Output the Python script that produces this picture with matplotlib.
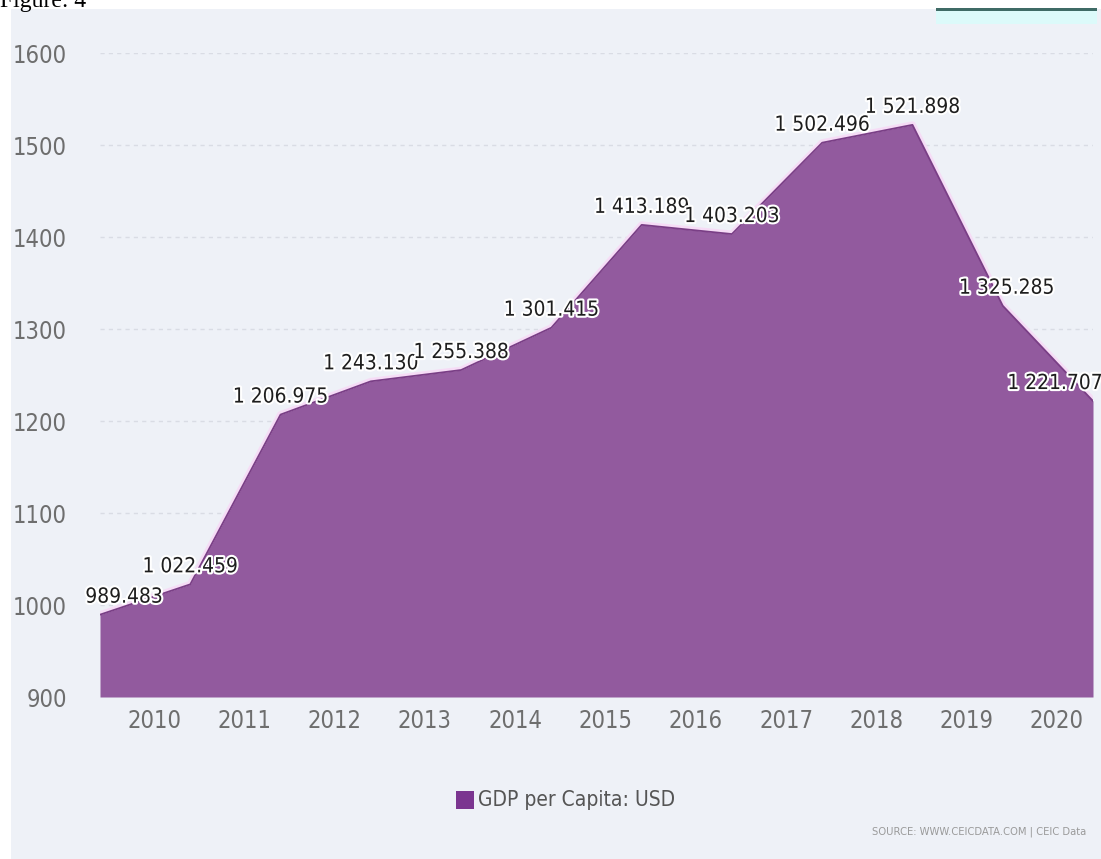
import matplotlib
matplotlib.use("Agg")
import matplotlib.pyplot as plt
import matplotlib.patheffects as pe
from matplotlib.patches import Rectangle

# data
values = [989.483, 1022.459, 1206.975, 1243.130, 1255.388, 1301.415,
          1413.189, 1403.203, 1502.496, 1521.898, 1325.285, 1221.707]
value_labels = ["989.483", "1 022.459", "1 206.975", "1 243.130", "1 255.388",
                "1 301.415", "1 413.189", "1 403.203", "1 502.496", "1 521.898",
                "1 325.285", "1 221.707"]
year_labels = ["2010", "2011", "2012", "2013", "2014", "2015", "2016",
               "2017", "2018", "2019", "2020"]
y_ticks = [900, 1000, 1100, 1200, 1300, 1400, 1500, 1600]
series_name = "GDP per Capita: USD"

FONT = ["DejaVu Sans"]
STRETCH = "condensed"
W, H = 1101, 859
fig = plt.figure(figsize=(W / 100, H / 100), dpi=100)
fig.patch.set_facecolor("white")

# panel background
fig.add_artist(Rectangle((11 / W, 0), 1, 1 - 9 / H, transform=fig.transFigure,
                         facecolor="#eef1f7", edgecolor="none", zorder=0))
# cyan bar at top right
fig.add_artist(Rectangle((936 / W, 1 - 24 / H), 161 / W, 14 / H, transform=fig.transFigure,
                         facecolor="#dcfafa", edgecolor="none", zorder=1))
fig.add_artist(Rectangle((936 / W, 1 - 11 / H), 161 / W, 2.5 / H, transform=fig.transFigure,
                         facecolor="#3f6b66", edgecolor="none", zorder=1))

# "Figure: 4" cut at top
fig.text(0 / W, 1 - 7 / H, "Figure: 4", family=["Liberation Serif", "DejaVu Serif"],
         fontsize=17, color="black", ha="left", va="baseline")

ax = fig.add_axes([100 / W, 1 - 697 / H, (1093 - 100) / W, (697 - 53) / H])
ax.set_facecolor("none")
x = list(range(len(values)))

for yv in y_ticks[1:]:
    ax.axhline(yv, color="#d9dce4", lw=1.0, ls=(0, (3, 3)), zorder=0.5)

ax.plot(x, values, color="#f6dcf6", lw=5, solid_joinstyle="round", zorder=1)
ax.fill_between(x, values, 900, color="#925a9e", lw=0, zorder=2)
ax.plot(x, values, color="#7a3f86", lw=1.3, zorder=3)

ax.set_xlim(0, len(values) - 1)
ax.set_ylim(900, 1600)
ax.set_yticks(y_ticks)
ax.set_yticklabels([str(v) for v in y_ticks])
ax.set_xticks([i + 0.6 for i in range(len(year_labels))])
ax.set_xticklabels(year_labels)
for s in ax.spines.values():
    s.set_visible(False)
ax.tick_params(axis="y", length=0, pad=24, labelsize=17, labelcolor="#6e6e6e")
ax.tick_params(axis="x", length=0, pad=9, labelsize=17, labelcolor="#6e6e6e")
for lab in ax.get_xticklabels() + ax.get_yticklabels():
    lab.set_family(FONT)
    lab.set_stretch(STRETCH)

# data labels
offsets = {0: 24, 10: 4, 11: -38}
for i, (v, t) in enumerate(zip(values, value_labels)):
    ax.annotate(t, (i, v), xytext=(offsets.get(i, 0), 8), textcoords="offset pixels",
                ha="center", va="bottom", fontsize=15, color="#1e1e1e",
                family=FONT, stretch=STRETCH, annotation_clip=False, zorder=5,
                path_effects=[pe.withStroke(linewidth=3, foreground="white")])

# legend
fig.add_artist(Rectangle((456 / W, 1 - 809 / H), 18 / W, 18 / H, transform=fig.transFigure,
                         facecolor="#7b3590", edgecolor="none"))
fig.text(478 / W, 1 - 800 / H, series_name, family=FONT, stretch=STRETCH, fontsize=15,
         color="#555555", ha="left", va="center")

# source
fig.text(872 / W, 1 - 832 / H, "SOURCE: WWW.CEICDATA.COM | CEIC Data", family=FONT,
         stretch=STRETCH, fontsize=8, color="#9a9a9a", ha="left", va="center")

fig.savefig("out.png", dpi=100)
